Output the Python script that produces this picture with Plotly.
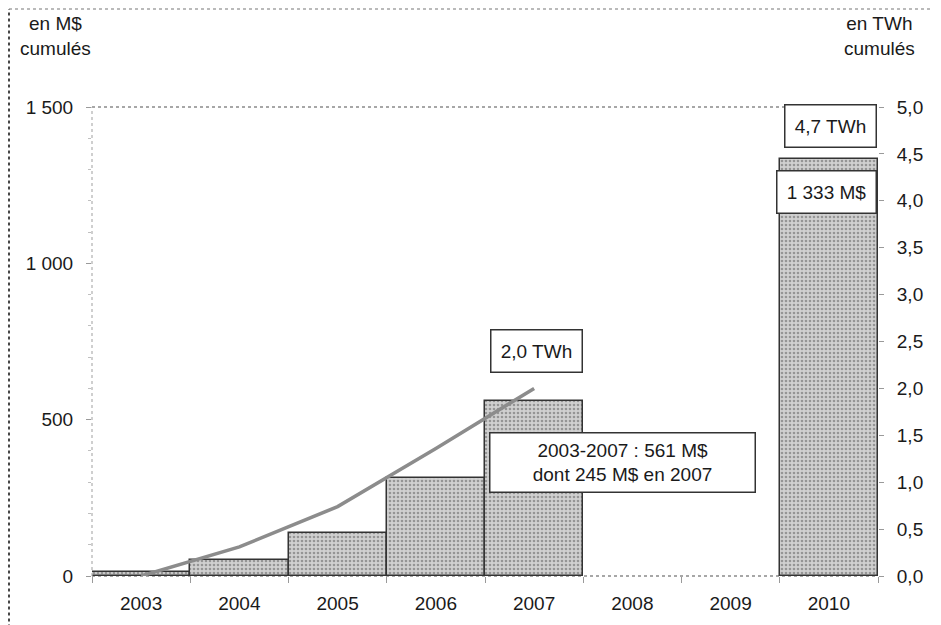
import plotly.graph_objects as go

years = ["2003", "2004", "2005", "2006", "2007", "2008", "2009", "2010"]
invest_musd = [13, 50, 136, 314, 561, None, None, 1333]
line_years = ["2003", "2004", "2005", "2006", "2007"]
energy_twh = [0.0, 0.31, 0.74, 1.36, 2.0]

left_ticks = [0, 500, 1000, 1500]
right_ticks = [0.0, 0.5, 1.0, 1.5, 2.0, 2.5, 3.0, 3.5, 4.0, 4.5, 5.0]

FONT = "Liberation Sans, Arial, sans-serif"
TXT = "#1a1a1a"
FS = 19

fig = go.Figure()
fig.add_trace(go.Bar(
    x=years, y=invest_musd,
    marker=dict(color="#c4c4c4", line=dict(color="#333333", width=1.5),
                pattern=dict(shape=".", fgcolor="#5a5a5a", bgcolor="#d0d0d0", size=4, solidity=0.35)),
    showlegend=False,
))
fig.add_trace(go.Scatter(
    x=line_years, y=energy_twh, yaxis="y2", mode="lines",
    line=dict(color="#8c8c8c", width=3.5), showlegend=False,
))

fig.update_layout(
    width=941, height=625,
    margin=dict(l=84, r=71, t=99, b=57),
    paper_bgcolor="white", plot_bgcolor="white",
    separators=", ",
    font=dict(family=FONT, size=FS, color=TXT),
    bargap=0,
    xaxis=dict(type="category", showgrid=False, showline=False,
               ticks="outside", tickson="boundaries", ticklen=6, tickcolor="#9a9a9a",
               ticklabelstandoff=14, tickfont=dict(size=FS, color=TXT), range=[-0.5, 7.5]),
    yaxis=dict(range=[0, 1500], tickvals=left_ticks, tickformat=",d", showgrid=False,
               showline=False, ticks="outside", ticklen=5, ticklabelstandoff=9,
               tickcolor="#9a9a9a", zeroline=False, tickfont=dict(size=FS, color=TXT),
               minor=dict(dtick=100, ticks="outside", ticklen=3, tickcolor="#c0c0c0")),
    yaxis2=dict(range=[0, 5], tickvals=right_ticks, tickformat=".1f", overlaying="y", side="right",
                showgrid=False, showline=False, ticks="outside", ticklen=5, ticklabelstandoff=9,
                tickcolor="#9a9a9a", zeroline=False, tickfont=dict(size=FS, color=TXT)),
)

# dotted plot-area borders (top, left, bottom) and outer frame lines
dot = dict(color="#8a8a8a", width=1.5, dash="dot")
fig.add_shape(type="line", xref="paper", yref="paper", x0=0, x1=1, y0=1, y1=1, line=dot)
fig.add_shape(type="line", xref="paper", yref="paper", x0=0, x1=0, y0=0, y1=1,
              line=dict(color="#b0b0b0", width=1.2, dash="dot"))
fig.add_shape(type="line", xref="paper", yref="paper", x0=0, x1=1, y0=0, y1=0, line=dot, layer="below")
fig.add_shape(type="line", xref="paper", yref="paper", x0=-0.1056, x1=-0.1056, y0=-0.11, y1=1.209,
              line=dict(color="#333333", width=1.8, dash="dot"))
fig.add_shape(type="line", xref="paper", yref="paper", x0=-0.1056, x1=1.08, y0=1.209, y1=1.209,
              line=dict(color="#777777", width=1.2, dash="dot"))

# axis titles
fig.add_annotation(xref="paper", yref="paper", x=-0.047, y=1.205, xanchor="center", yanchor="top",
                   text="en M$<br>cumulés", showarrow=False, align="center",
                   font=dict(size=FS, color=TXT))
fig.add_annotation(xref="paper", yref="paper", x=1.0013, y=1.205, xanchor="center", yanchor="top",
                   text="en TWh<br>cumulés", showarrow=False, align="center",
                   font=dict(size=FS, color=TXT))

box = dict(showarrow=False, bgcolor="white", bordercolor="#333333", borderwidth=1.5,
           font=dict(size=FS, color=TXT), xref="x", yref="y2", borderpad=3)
fig.add_annotation(x=4.02, y=2.40, text="2,0 TWh", width=84, height=35, **box)
fig.add_annotation(x=4.90, y=1.205, text="2003-2007 : 561 M$<br>dont 245 M$ en 2007",
                   width=258, height=52, **box)
fig.add_annotation(x=7.02, y=4.80, text="4,7 TWh", width=84, height=35, **box)
fig.add_annotation(x=6.98, y=4.09, text="1 333 M$", width=92, height=35, **box)

fig.write_html("out.html")
